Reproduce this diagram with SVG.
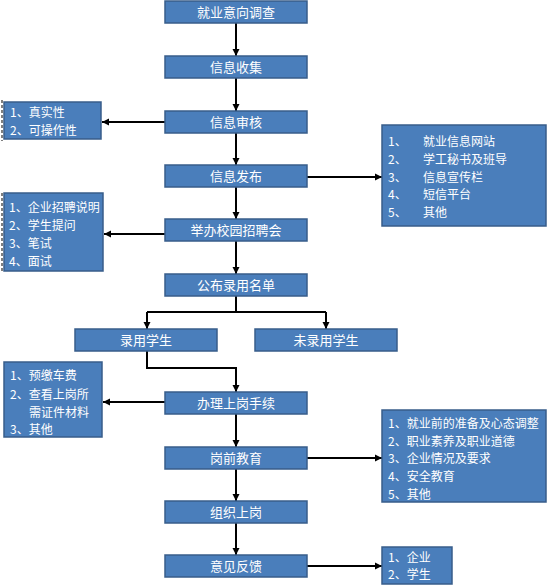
<svg xmlns="http://www.w3.org/2000/svg" width="550" height="586" viewBox="0 0 550 586">
<style>
.box{fill:#4A7EBB;stroke:#385D8A;stroke-width:1.5}
.t{fill:#fff;font-family:"Noto Sans CJK SC","Liberation Sans",sans-serif;font-size:12px}
.m{font-size:13px;text-anchor:middle}
.ln{fill:none;stroke:#000;stroke-width:2}
.dash{fill:none;stroke:#000;stroke-width:1;stroke-dasharray:3 2}
</style>
<defs>
<marker id="ah" markerUnits="userSpaceOnUse" markerWidth="8" markerHeight="8" refX="7" refY="4" orient="auto">
<path d="M0,0.5 L7,4 L0,7.5 z" fill="#000"/>
</marker>
</defs>
<rect width="550" height="586" fill="#fff"/>
<g id="connectors">
<line class="ln" x1="236" y1="23" x2="236" y2="56" marker-end="url(#ah)"/>
<line class="ln" x1="236" y1="78" x2="236" y2="111" marker-end="url(#ah)"/>
<line class="ln" x1="236" y1="133" x2="236" y2="165" marker-end="url(#ah)"/>
<line class="ln" x1="236" y1="187" x2="236" y2="219" marker-end="url(#ah)"/>
<line class="ln" x1="236" y1="241" x2="236" y2="274" marker-end="url(#ah)"/>
<polyline class="ln" points="236,296 236,312"/>
<polyline class="ln" points="147,312 326,312"/>
<line class="ln" x1="147" y1="312" x2="147" y2="329" marker-end="url(#ah)"/>
<line class="ln" x1="326" y1="312" x2="326" y2="329" marker-end="url(#ah)"/>
<polyline class="ln" points="147,351 147,368 236,368 236,392" marker-end="url(#ah)"/>
<line class="ln" x1="236" y1="414" x2="236" y2="447" marker-end="url(#ah)"/>
<line class="ln" x1="236" y1="469" x2="236" y2="501" marker-end="url(#ah)"/>
<line class="ln" x1="236" y1="523" x2="236" y2="555" marker-end="url(#ah)"/>
<line class="ln" x1="165" y1="122" x2="102" y2="122" marker-end="url(#ah)"/>
<line class="ln" x1="307" y1="177" x2="382" y2="177" marker-end="url(#ah)"/>
<line class="ln" x1="165" y1="234" x2="104" y2="234" marker-end="url(#ah)"/>
<line class="ln" x1="165" y1="402" x2="103" y2="402" marker-end="url(#ah)"/>
<line class="ln" x1="307" y1="458" x2="382" y2="458" marker-end="url(#ah)"/>
<line class="ln" x1="307" y1="566" x2="382" y2="566" marker-end="url(#ah)"/>
</g>
<g id="n1"><rect class="box" x="165" y="1" width="142" height="22"/><text class="t m" x="236" y="17">就业意向调查</text></g>
<g id="n2"><rect class="box" x="165" y="56" width="142" height="22"/><text class="t m" x="236" y="72">信息收集</text></g>
<g id="n3"><rect class="box" x="165" y="111" width="142" height="22"/><text class="t m" x="236" y="127">信息审核</text></g>
<g id="n4"><rect class="box" x="165" y="165" width="142" height="22"/><text class="t m" x="236" y="181">信息发布</text></g>
<g id="n5"><rect class="box" x="165" y="219" width="142" height="22"/><text class="t m" x="236" y="235">举办校园招聘会</text></g>
<g id="n6"><rect class="box" x="165" y="274" width="142" height="22"/><text class="t m" x="236" y="290">公布录用名单</text></g>
<g id="n7"><rect class="box" x="75" y="329" width="142" height="22"/><text class="t m" x="146" y="345">录用学生</text></g>
<g id="n8"><rect class="box" x="255" y="329" width="142" height="22"/><text class="t m" x="326" y="345">未录用学生</text></g>
<g id="n9"><rect class="box" x="165" y="392" width="142" height="22"/><text class="t m" x="236" y="408">办理上岗手续</text></g>
<g id="n10"><rect class="box" x="165" y="447" width="142" height="22"/><text class="t m" x="236" y="463">岗前教育</text></g>
<g id="n11"><rect class="box" x="165" y="501" width="142" height="22"/><text class="t m" x="236" y="517">组织上岗</text></g>
<g id="n12"><rect class="box" x="165" y="555" width="142" height="22"/><text class="t m" x="236" y="571">意见反馈</text></g>
<g id="sA">
<line class="dash" x1="2" y1="100" x2="2" y2="141"/>
<rect class="box" x="4" y="102" width="97" height="37"/>
<text class="t" x="10" y="117">1、真实性</text>
<text class="t" x="10" y="135">2、可操作性</text>
</g>
<g id="sB">
<line class="dash" x1="2" y1="193" x2="2" y2="271"/>
<rect class="box" x="4" y="193" width="99" height="78"/>
<text class="t" x="9" y="212">1、企业招聘说明</text>
<text class="t" x="9" y="230">2、学生提问</text>
<text class="t" x="9" y="248">3、笔试</text>
<text class="t" x="9" y="266">4、面试</text>
</g>
<g id="sC">
<rect class="box" x="4" y="362" width="98" height="75"/>
<text class="t" x="10" y="380">1、预缴车费</text>
<text class="t" x="10" y="399">2、查看上岗所</text>
<text class="t" x="29" y="417">需证件材料</text>
<text class="t" x="10" y="434">3、其他</text>
</g>
<g id="sD">
<rect class="box" x="382" y="125" width="164" height="101"/>
<text class="t" x="388" y="146">1、</text><text class="t" x="423" y="146">就业信息网站</text>
<text class="t" x="388" y="164">2、</text><text class="t" x="423" y="164">学工秘书及班导</text>
<text class="t" x="388" y="182">3、</text><text class="t" x="423" y="182">信息宣传栏</text>
<text class="t" x="388" y="199">4、</text><text class="t" x="423" y="199">短信平台</text>
<text class="t" x="388" y="217">5、</text><text class="t" x="423" y="217">其他</text>
</g>
<g id="sE">
<rect class="box" x="382" y="410" width="164" height="92"/>
<text class="t" x="388" y="428">1、就业前的准备及心态调整</text>
<text class="t" x="388" y="446">2、职业素养及职业道德</text>
<text class="t" x="388" y="463">3、企业情况及要求</text>
<text class="t" x="388" y="481">4、安全教育</text>
<text class="t" x="388" y="499">5、其他</text>
</g>
<g id="sF">
<rect class="box" x="382" y="547" width="70" height="37"/>
<text class="t" x="388" y="562">1、企业</text>
<text class="t" x="388" y="579">2、学生</text>
</g>
</svg>
